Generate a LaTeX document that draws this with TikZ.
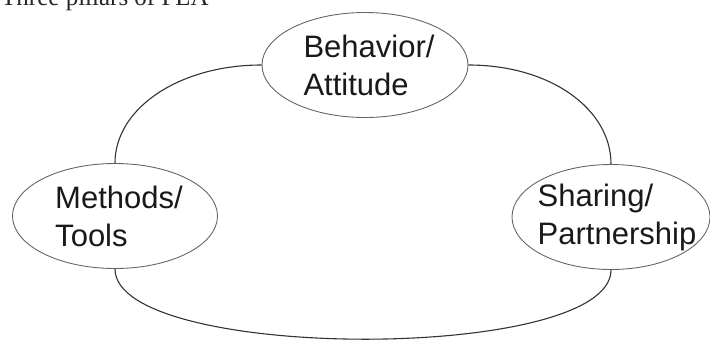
\documentclass[tikz,border=0pt]{standalone}
\usepackage{fontspec}
\setmainfont{Liberation Sans}
\newfontfamily\titlefont{Liberation Serif}
\usetikzlibrary{shapes.geometric}
\tikzset{
  pillar/.style={ellipse, draw=black!60, line width=0.9pt, inner sep=-40pt,
    minimum width=#1, minimum height=105pt, align=left,
    font=\fontsize{31}{38}\selectfont, text=black!90},
  link/.style={draw=black!80, line width=1.1pt},
  caption/.style={anchor=base west, inner sep=0pt, font=\titlefont\fontsize{25}{30}\selectfont, text=black!85}
}
\begin{document}
\begin{tikzpicture}[x=1pt,y=-1pt]
\useasboundingbox (0,0) rectangle (710,341);
\clip (0,0) rectangle (710,341);
\node[caption] (title) at (1,5) {Three pillars of PLA};
\node[pillar=206pt] (beh) at (365,65) {\hspace*{8pt}Behavior/\\\hspace*{8pt}Attitude};
\node[pillar=205pt] (met) at (115,216) {\hspace*{8pt}Methods/\\\hspace*{8pt}Tools};
\node[pillar=198pt] (sha) at (611,217) {\hspace*{12pt}Sharing/\\\hspace*{12pt}Partnership};
\draw[link] (beh.west) .. controls +(-82,0) and +(0,-55) .. (met.north);
\draw[link] (beh.east) .. controls +(82,0) and +(0,-55) .. (sha.north);
\draw[link] (met.south) .. controls +(0,93) and +(0,93) .. (sha.south);
\end{tikzpicture}
\end{document}
